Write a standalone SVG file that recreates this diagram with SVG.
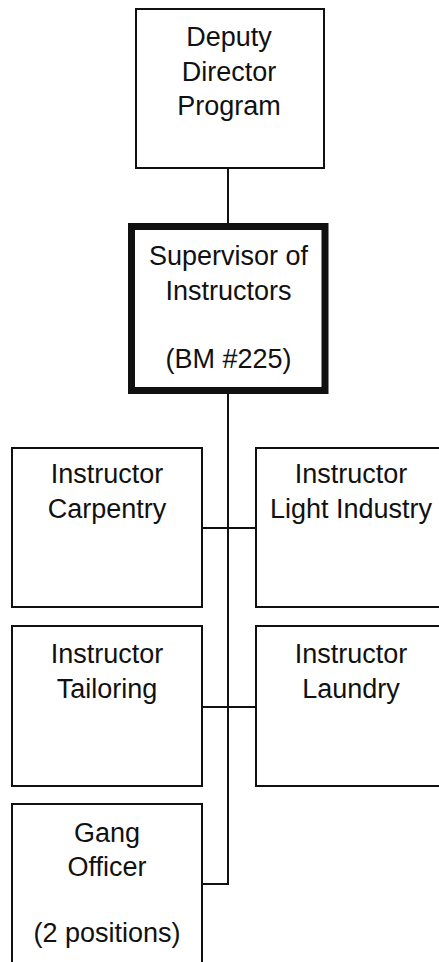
<svg xmlns="http://www.w3.org/2000/svg" width="439" height="962" viewBox="0 0 439 962">
<style>
.box{fill:#fff;stroke:#111;stroke-width:2}
.thick{fill:#fff;stroke:#111;stroke-width:7}
.t{font-family:"Liberation Sans",Arial,sans-serif;font-size:27px;fill:#111;text-anchor:middle}
.c{fill:none;stroke:#111;stroke-width:2}
</style>
<rect width="439" height="962" fill="#fff"/>
<g id="connectors">
<line class="c" x1="228" y1="168" x2="228" y2="226"/>
<polyline class="c" points="228,390 228,884 202,884"/>
<line class="c" x1="202" y1="528" x2="256" y2="528"/>
<line class="c" x1="202" y1="707" x2="256" y2="707"/>
</g>
<g id="deputy">
<rect class="box" x="136" y="9" width="188" height="159"/>
<text class="t" x="229" y="46">Deputy</text>
<text class="t" x="229" y="81">Director</text>
<text class="t" x="229" y="115">Program</text>
</g>
<g id="supervisor">
<rect class="thick" x="131.5" y="226.5" width="193.5" height="164"/>
<text class="t" x="228.5" y="265">Supervisor of</text>
<text class="t" x="228.5" y="300">Instructors</text>
<text class="t" x="228.5" y="368">(BM #225)</text>
</g>
<g id="carpentry">
<rect class="box" x="12" y="448" width="190" height="159"/>
<text class="t" x="107" y="483">Instructor</text>
<text class="t" x="107" y="518">Carpentry</text>
</g>
<g id="light-industry">
<rect class="box" x="256" y="448" width="190" height="159"/>
<text class="t" x="351" y="483">Instructor</text>
<text class="t" x="351" y="518">Light Industry</text>
</g>
<g id="tailoring">
<rect class="box" x="12" y="626" width="190" height="160"/>
<text class="t" x="107" y="663">Instructor</text>
<text class="t" x="107" y="698">Tailoring</text>
</g>
<g id="laundry">
<rect class="box" x="256" y="626" width="190" height="160"/>
<text class="t" x="351" y="663">Instructor</text>
<text class="t" x="351" y="698">Laundry</text>
</g>
<g id="gang-officer">
<rect class="box" x="12" y="804" width="190" height="170"/>
<text class="t" x="107" y="842">Gang</text>
<text class="t" x="107" y="876">Officer</text>
<text class="t" x="107" y="942">(2 positions)</text>
</g>
</svg>
